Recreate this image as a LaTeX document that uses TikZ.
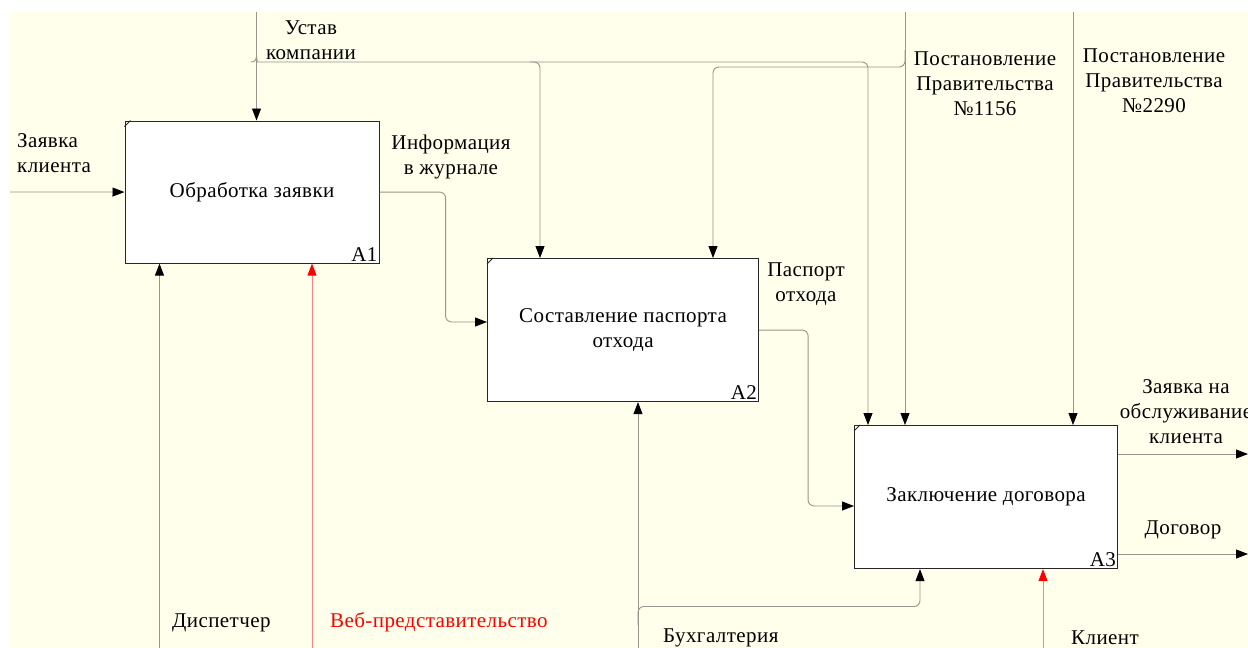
\documentclass[tikz,border=0pt]{standalone}
\usepackage{fontspec}
\setmainfont{Liberation Serif}
\newfontfamily\diagfont[LetterSpace=2]{Liberation Serif}
\usetikzlibrary{arrows.meta,calc}
\definecolor{paper}{RGB}{255,255,235}
\definecolor{wire}{RGB}{150,150,140}
\definecolor{webred}{RGB}{255,130,130}
\begin{document}
\begin{tikzpicture}[x=1pt,y=-1pt,
  func/.style={draw=black!85, line width=1.1pt, fill=white, anchor=north west,
    inner sep=0pt, align=center, font=\diagfont\fontsize{21}{25}\selectfont},
  flow/.style={draw=wire, line width=0.9pt, rounded corners=6pt,
    -{Triangle[length=12pt,width=9pt,color=black]}},
  link/.style={draw=wire, line width=0.9pt, rounded corners=6pt},
  webflow/.style={draw=webred, line width=0.9pt,
    -{Triangle[length=12pt,width=9pt,color=red]}},
  lbl/.style={font=\diagfont\fontsize{21}{25}\selectfont, align=center, inner sep=0pt},
  num/.style={font=\diagfont\fontsize{21}{24}\selectfont, anchor=south east, inner sep=2pt},
  tick/.style={draw=black!85, line width=0.8pt},
]
% sheet
\useasboundingbox (0,0) rectangle (1248,648);
\fill[white] (0,0) rectangle (1248,648);
\fill[paper] (10,12) rectangle (1248,648);

% activity boxes
\node[func, minimum width=254pt, minimum height=142pt] (a1) at (124.5,120.5) {Обработка заявки};
\node[func, minimum width=271pt, minimum height=143pt] (a2) at (487,258) {Составление паспорта\\отхода};
\node[func, minimum width=263pt, minimum height=143pt] (a3) at (854,425) {Заключение договора};
\foreach \b/\n in {a1/A1,a2/A2,a3/A3}{
  \node[num] (\b num) at (\b.south east) {\n};
  \draw[tick] ($(\b.north west)+(0,6)$) -- ($(\b.north west)+(6,0)$);
}

% free ends
\coordinate (inZ) at (10,192);
\coordinate (topU) at (256.5,12);
\coordinate (topP1) at (905,12);
\coordinate (topP2) at (1073,12);
\coordinate (outZ) at (1248,454);
\coordinate (outD) at (1248,554);
\coordinate (botD) at (159.5,648);
\coordinate (botW) at (312,648);
\coordinate (botB) at (638,648);
\coordinate (botK) at (1043,648);

% input
\draw[flow] (inZ) -- (a1.west);

% controls
\draw[flow] (topU) -- ($(a1.north west)+(132,0)$);
\draw[link] (256.5,55) .. controls (256.5,60) and (258,62) .. (263,62) -- (300,62);
\draw[link] (256.5,55) .. controls (256.5,60) and (255,62) .. (251,62);
\draw[flow] (300,62) -| ($(a2.north west)+(53,0)$);
\draw[flow] (530,62) -| ($(a3.north west)+(14,0)$);
\draw[flow] (topP1) -- ($(a3.north west)+(51,0)$);
\draw[flow] (905,50) |- (800,67) -| ($(a2.north west)+(226,0)$);
\draw[flow] (topP2) -- ($(a3.north west)+(219,0)$);

% outputs
\draw[flow] (a1.east) -- ++(66,0) |- ($(a2.north west)+(0,64)$);
\draw[flow] (a2.east) -- ++(49,0) |- ($(a3.north west)+(0,81)$);
\draw[flow] ($(a3.north east)+(0,29)$) -- (outZ);
\draw[flow] ($(a3.north east)+(0,129)$) -- (outD);

% mechanisms
\draw[flow] (botD) -- ($(a1.south west)+(35,0)$);
\draw[webflow] (botW) -- ($(a1.south west)+(187.5,0)$);
\draw[flow] (botB) -- ($(a2.south west)+(151,0)$);
\draw[flow] (638,625) |- (800,606.5) -| ($(a3.south west)+(66,0)$);
\draw[webflow] (botK) -- ($(a3.south west)+(189,0)$);

% arrow labels
\node[lbl, align=left, anchor=west] (tZ) at (17,153) {Заявка\\клиента};
\node[lbl] (tU) at (311,40) {Устав\\компании};
\node[lbl] (tI) at (451,157) {Информация\\в журнале};
\node[lbl] (tP) at (806,284) {Паспорт\\отхода};
\node[lbl] (tP1) at (985,84) {Постановление\\Правительства\\№1156};
\node[lbl] (tP2) at (1154,81) {Постановление\\Правительства\\№2290};
\node[lbl] (tO) at (1186,412) {Заявка на\\обслуживание\\клиента};
\node[lbl] (tD) at (1183,530) {Договор};
\node[lbl, anchor=west] (tDs) at (172,623) {Диспетчер};
\node[lbl, anchor=west, text=red] (tW) at (330,622) {Веб-представительство};
\node[lbl, anchor=west] (tB) at (663,638) {Бухгалтерия};
\node[lbl, anchor=west] (tK) at (1071,638) {Клиент};
\end{tikzpicture}
\end{document}
